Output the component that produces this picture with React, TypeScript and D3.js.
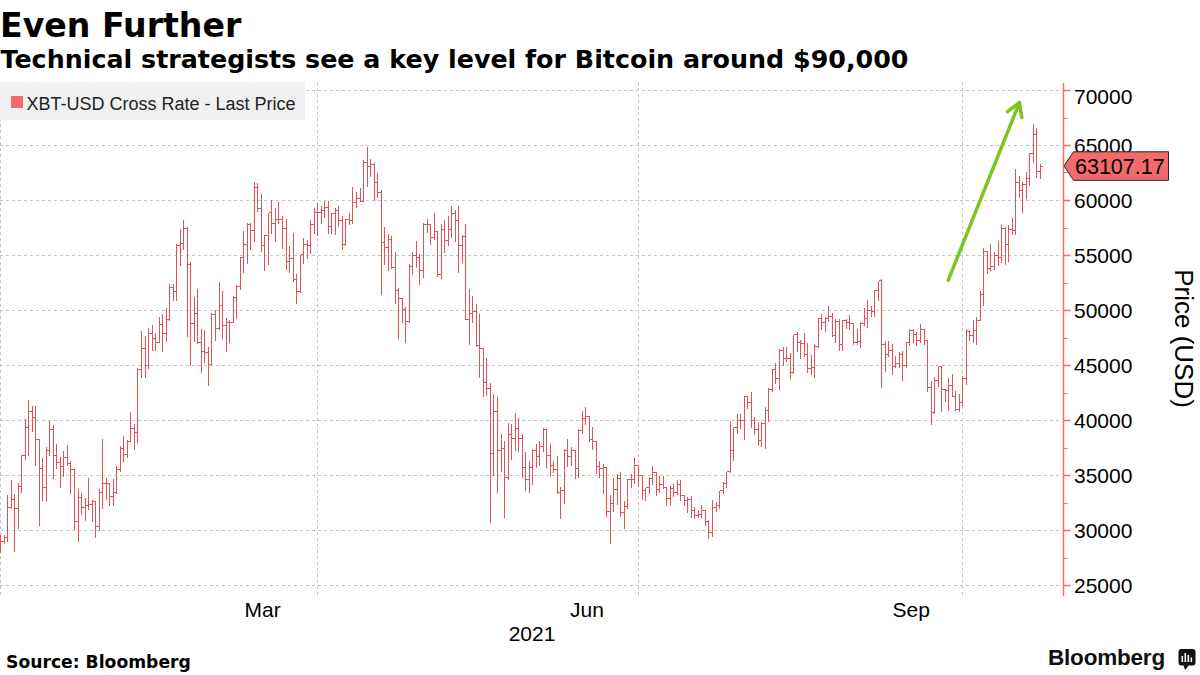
import React, { useEffect } from "react";
import * as d3 from "d3";

type OHLC = [number, number, number, number]; // open, high, low, close (USD)

const TITLE = "Even Further";
const SUBTITLE = "Technical strategists see a key level for Bitcoin around $90,000";
const LEGEND_LABEL = "XBT-USD Cross Rate - Last Price";
const SOURCE = "Source: Bloomberg";
const AXIS_TITLE = "Price (USD)";
const BRAND = "Bloomberg";
const LAST_PRICE = 63107.17;
const LAST_PRICE_LABEL = "63107.17";

const yTicks = [25000, 30000, 35000, 40000, 45000, 50000, 55000, 60000, 65000, 70000];
const yMinorTicks = [27500, 32500, 37500, 42500, 47500, 52500, 57500, 62500, 67500];
const monthLabels = ["Mar", "Jun", "Sep"];
const monthLabelMonths = [2, 5, 8];
const yearLabel = "2021";

// arrow annotation (date, price)
const arrowFrom = { date: "2021-09-27T00:00:00", price: 52700 };
const arrowTo = { date: "2021-10-17T05:00:00", price: 68850 };

const dec2020: OHLC[] = [[28900, 29600, 28000, 29000]];
const jan2021: OHLC[] = [
  [29000, 29600, 28800, 29400], [29400, 33300, 29000, 32100], [32100, 34600, 32000, 32800],
  [32800, 33400, 28100, 32000], [32000, 34400, 30200, 34000], [34000, 36900, 33500, 36800],
  [36800, 40200, 36500, 39400], [39400, 41900, 36800, 40800], [40800, 41400, 39000, 40300],
  [40300, 41400, 35900, 38300], [38300, 38400, 30500, 35600], [35600, 36600, 32700, 33900],
  [33900, 37600, 32600, 37300], [37300, 40000, 36800, 39200], [39200, 39600, 34700, 36800],
  [36800, 37900, 35600, 36200], [36200, 36700, 33900, 35800], [35800, 37300, 34900, 36600],
  [36600, 37800, 35900, 36100], [36100, 36400, 33400, 35500], [35500, 35600, 30100, 30800],
  [30800, 33800, 29000, 33000], [33000, 33500, 31500, 32100], [32100, 33000, 30900, 32300],
  [32300, 34800, 31900, 32400], [32400, 32800, 30800, 32600], [32600, 32600, 29400, 30400],
  [30400, 33800, 30000, 33500], [33500, 38400, 32000, 34300], [34300, 34800, 32800, 34300],
  [34300, 34300, 32300, 33100],
];
const feb2021: OHLC[] = [
  [33100, 34700, 32300, 33500], [33500, 35900, 33400, 35500], [35500, 37700, 35400, 37500],
  [37500, 38600, 36300, 36900], [36900, 38300, 36600, 38100], [38100, 40800, 38100, 39300],
  [39300, 39700, 37400, 38900], [38900, 44800, 38000, 44600], [44600, 48200, 43900, 46500],
  [46500, 47700, 43900, 45000], [45000, 48500, 44700, 47900], [47900, 48700, 46400, 47500],
  [47500, 48000, 46400, 47100], [47100, 49500, 47100, 48700], [48700, 49700, 46300, 47900],
  [47900, 50300, 47200, 49200], [49200, 52500, 49100, 52100], [52100, 52500, 50900, 51700],
  [51700, 56100, 50900, 55900], [55900, 57500, 54100, 56100], [56100, 58300, 55500, 57500],
  [57500, 57600, 47600, 54200], [54200, 54500, 45000, 48800], [48800, 51300, 47200, 49700],
  [49700, 52000, 47000, 47100], [47100, 48400, 44400, 46300], [46300, 48300, 45300, 46200],
  [46200, 46700, 43200, 45100],
];
const mar2021: OHLC[] = [
  [45100, 49800, 45100, 49600], [49600, 50100, 47300, 48400], [48400, 52600, 48300, 50500],
  [50500, 51800, 47500, 48600], [48600, 49400, 46300, 48900], [48900, 49200, 47100, 48900],
  [48900, 51400, 48900, 51200], [51200, 52400, 49300, 52200], [52200, 54900, 51900, 54800],
  [54800, 57300, 53500, 56000], [56000, 58000, 54300, 57800], [57800, 58000, 55500, 57300],
  [57300, 61700, 56300, 61200], [61200, 61600, 59000, 59300], [59300, 60600, 55400, 55900],
  [55900, 56900, 53600, 56800], [56800, 58900, 54200, 58900], [58900, 60100, 57000, 57900],
  [57900, 59400, 56300, 58300], [58300, 59900, 57900, 58300], [58300, 58600, 55600, 57500],
  [57500, 58400, 53700, 54500], [54500, 55900, 53500, 54700], [54700, 57100, 52600, 52800],
  [52800, 53400, 50600, 51700], [51700, 55100, 51600, 55100], [55100, 56600, 54300, 56000],
  [56000, 56500, 54700, 55900], [55900, 58300, 55200, 57800], [57800, 59400, 57000, 58900],
  [58900, 59800, 56800, 58900],
];
const apr2021: OHLC[] = [
  [58900, 59500, 57900, 59100], [59100, 60000, 58500, 59400], [59400, 60000, 57000, 57600],
  [57600, 58900, 57000, 58800], [58800, 59400, 56900, 59100], [59100, 59500, 57600, 58200],
  [58200, 58600, 55500, 56000], [56000, 58400, 55900, 58300], [58300, 58900, 57800, 58200],
  [58200, 61300, 57900, 59800], [59800, 60800, 59400, 60200], [60200, 61200, 59900, 59900],
  [59900, 63700, 59900, 63500], [63500, 64900, 61300, 63100], [63100, 63800, 62200, 63300],
  [63300, 63500, 60000, 61600], [61600, 62500, 60300, 60700], [60700, 61000, 51500, 56200],
  [56200, 57600, 54200, 55700], [55700, 57000, 53600, 56500], [56500, 56800, 53800, 53900],
  [53900, 55400, 50600, 51800], [51800, 52100, 47500, 51100], [51100, 51200, 48900, 50100],
  [50100, 50400, 47100, 49000], [49000, 54300, 48900, 54000], [54000, 55400, 53300, 55000],
  [55000, 56400, 53900, 54800], [54800, 55200, 52400, 53600], [53600, 58000, 53000, 57800],
];
const may2021: OHLC[] = [
  [57800, 58400, 57100, 57800], [57800, 57900, 56000, 56600], [56600, 58900, 56500, 57200],
  [57200, 57200, 53100, 53300], [53300, 57900, 52900, 57400], [57400, 58300, 55300, 56400],
  [56400, 58600, 55900, 57400], [57400, 59500, 56600, 58800], [58800, 59200, 56300, 58200],
  [58200, 59500, 53500, 55900], [55900, 56900, 54400, 56700], [56700, 57900, 49200, 49200],
  [49200, 52000, 46900, 49700], [49700, 51400, 48900, 49900], [49900, 50600, 46700, 46800],
  [46800, 49700, 43900, 46500], [46500, 46500, 42200, 43500], [43500, 45700, 42300, 42900],
  [42900, 43500, 30700, 37000], [37000, 42500, 35000, 40800], [40800, 42200, 33500, 37300],
  [37300, 38800, 35400, 37500], [37500, 38200, 31200, 34800], [34800, 39800, 34600, 38700],
  [38700, 39700, 36500, 38400], [38400, 40700, 37300, 39300], [39300, 40300, 37200, 38400],
  [38400, 38800, 34800, 35700], [35700, 37200, 33600, 34600], [34600, 36400, 33500, 35700],
  [35700, 37500, 34200, 37300],
];
const jun2021: OHLC[] = [
  [37300, 37900, 35700, 36700], [36700, 38200, 35900, 37600], [37600, 39400, 37200, 39200],
  [39200, 39200, 35700, 36800], [36800, 37900, 34900, 35900], [35900, 36400, 35300, 35500],
  [35500, 36800, 33400, 33500], [33500, 34000, 31100, 33600], [33600, 37500, 32500, 37300],
  [37300, 38400, 35800, 36700], [36700, 37600, 35900, 37300], [37300, 37400, 34700, 35600],
  [35600, 39300, 34800, 39100], [39100, 40900, 38800, 40200], [40200, 41300, 39600, 40400],
  [40400, 40500, 38100, 38300], [38300, 39500, 37400, 38100], [38100, 38200, 35200, 35800],
  [35800, 36400, 34800, 35600], [35600, 36100, 33400, 35700], [35700, 35700, 31300, 31700],
  [31700, 33300, 28800, 32500], [32500, 34800, 31700, 33700], [33700, 35200, 32400, 34700],
  [34700, 35400, 31300, 31600], [31600, 32700, 30200, 32200], [32200, 34700, 32000, 34600],
  [34600, 35200, 33900, 34600], [34600, 36600, 34300, 35900], [35900, 36000, 34000, 35000],
];
const jul2021: OHLC[] = [
  [35000, 35000, 32800, 33600], [33600, 33900, 32700, 33900], [33900, 34900, 33400, 34700],
  [34700, 35900, 34200, 35300], [35300, 35300, 33200, 33700], [33700, 35000, 33500, 34200],
  [34200, 35000, 33800, 33900], [33900, 33900, 32300, 32900], [32900, 34100, 32400, 33800],
  [33800, 34300, 33100, 33500], [33500, 34600, 33300, 34200], [34200, 34600, 32700, 33200],
  [33200, 33300, 32300, 32700], [32700, 33100, 31600, 32800], [32800, 33200, 31200, 31800],
  [31800, 32200, 31100, 31400], [31400, 31900, 31200, 31500], [31500, 32400, 31200, 31800],
  [31800, 31900, 30500, 30800], [30800, 31000, 29300, 29800], [29800, 32800, 29500, 32100],
  [32100, 32600, 31700, 32300], [32300, 33600, 32000, 33600], [33600, 34500, 33400, 34300],
  [34300, 35400, 33900, 35400], [35400, 40000, 35300, 37300], [37300, 39500, 36400, 39400],
  [39400, 40600, 38800, 40000], [40000, 40600, 39300, 40000], [40000, 42300, 38300, 42200],
  [42200, 42300, 41100, 41600],
];
const aug2021: OHLC[] = [
  [41600, 42600, 39400, 40000], [40000, 40400, 38700, 39200], [39200, 39800, 37700, 38200],
  [38200, 39900, 37600, 39700], [39700, 41300, 37500, 40900], [40900, 43000, 39900, 42800],
  [42800, 44700, 42600, 44600], [44600, 45300, 43400, 43800], [43800, 46500, 42800, 46400],
  [46400, 46700, 45000, 45600], [45600, 46700, 45400, 45600], [45600, 46200, 43800, 44400],
  [44400, 47800, 44300, 47800], [47800, 48100, 46300, 47100], [47100, 47400, 45600, 47000],
  [47000, 48000, 45800, 46000], [46000, 47100, 44400, 44700], [44700, 46000, 44200, 44800],
  [44800, 47000, 43900, 46700], [46700, 49400, 46600, 49300], [49300, 49700, 48300, 48900],
  [48900, 49500, 48100, 49300], [49300, 50500, 49000, 49500], [49500, 49800, 47600, 47700],
  [47700, 49300, 47100, 49000], [49000, 49300, 46400, 46900], [46900, 49200, 46400, 49100],
  [49100, 49300, 48400, 48900], [48900, 49600, 48300, 48800], [48800, 48900, 46900, 47100],
  [47100, 48400, 46900, 47200],
];
const sep2021: OHLC[] = [
  [47200, 49000, 46600, 48800], [48800, 50300, 48600, 49300], [49300, 51000, 48500, 50000],
  [50000, 50500, 49500, 49900], [49900, 51900, 49500, 51800], [51800, 52700, 50900, 52700],
  [52700, 52900, 43000, 46900], [46900, 47300, 44500, 46000], [46000, 47300, 45800, 46400],
  [46400, 47000, 44200, 44900], [44900, 45900, 44800, 45200], [45200, 46300, 44800, 46000],
  [46000, 46400, 43600, 45000], [45000, 47200, 44800, 47100], [47100, 48400, 46800, 48200],
  [48200, 48400, 47100, 47800], [47800, 48100, 46800, 47300], [47300, 48800, 47100, 48300],
  [48300, 48300, 46900, 47300], [47300, 47300, 42600, 43000], [43000, 43600, 39600, 40700],
  [40700, 44000, 40600, 43600], [43600, 44900, 43100, 44900], [44900, 45000, 40800, 42800],
  [42800, 42900, 41700, 42700], [42700, 43900, 40900, 43200], [43200, 44300, 42200, 42200],
  [42200, 42700, 40900, 41000], [41000, 42500, 40800, 41600], [41600, 44100, 41400, 43800],
];
const oct2021: OHLC[] = [
  [43800, 48400, 43300, 48100], [48100, 48300, 47300, 47700], [47700, 49200, 47100, 48200],
  [48200, 49500, 46900, 49100], [49100, 51800, 49100, 51500], [51500, 55700, 50500, 55400],
  [55400, 55400, 53400, 53800], [53800, 56100, 53600, 54000], [54000, 55400, 53700, 55000],
  [55000, 56400, 54100, 54800], [54800, 57800, 54400, 57500], [57500, 57600, 54200, 56000],
  [56000, 57800, 54500, 57400], [57400, 58500, 56900, 57300], [57300, 62900, 56900, 61600],
  [61600, 62300, 60300, 60900], [60900, 61700, 58900, 61500], [61500, 62600, 60200, 62000],
  [62000, 64400, 61400, 64300], [64300, 67000, 63500, 66000], [66000, 66600, 62100, 62600],
  [62600, 63400, 62000, 63107],
];

const monthSeries = [
  { year: 2020, month: 11, firstDay: 31, bars: dec2020 },
  { year: 2021, month: 0, firstDay: 1, bars: jan2021 },
  { year: 2021, month: 1, firstDay: 1, bars: feb2021 },
  { year: 2021, month: 2, firstDay: 1, bars: mar2021 },
  { year: 2021, month: 3, firstDay: 1, bars: apr2021 },
  { year: 2021, month: 4, firstDay: 1, bars: may2021 },
  { year: 2021, month: 5, firstDay: 1, bars: jun2021 },
  { year: 2021, month: 6, firstDay: 1, bars: jul2021 },
  { year: 2021, month: 7, firstDay: 1, bars: aug2021 },
  { year: 2021, month: 8, firstDay: 1, bars: sep2021 },
  { year: 2021, month: 9, firstDay: 1, bars: oct2021 },
];

const COLORS = {
  bar: "#df5258",
  accent: "#f26b6b",
  grid: "#c4c4c4",
  legendBg: "#f0f0f0",
  arrow: "#7cc41e",
  text: "#000000",
};

const SANS = "'Liberation Sans', Arial, sans-serif";
const BOLD = "'DejaVu Sans', Verdana, sans-serif";

export default function App() {
  useEffect(() => {
    document.body.style.margin = "0";
  }, []);

  const W = 1200;
  const H = 675;
  const plotLeft = 0;
  const plotRight = 1062;
  const plotTop = 82;
  const plotBottom = 596;

  const x = d3
    .scaleTime()
    .domain([new Date(2021, 0, 1), new Date(2021, 9, 29, 7)])
    .range([plotLeft, plotRight]);
  const y = d3.scaleLinear().domain([25000, 70000]).range([585, 90]);

  const bars = monthSeries.flatMap((m) =>
    m.bars.map((b, i) => ({
      date: new Date(m.year, m.month, m.firstDay + i),
      open: b[0],
      high: b[1],
      low: b[2],
      close: b[3],
    }))
  );

  // bars are stamped at the session close (end of the day)
  const barX = (d: Date) => Math.round(x(d3.timeDay.offset(d, 1))) + 0.5;
  const ry = (v: number) => Math.round(y(v)) + 0.5;
  const tick = 2.5;
  const barPath = bars
    .map((b) => {
      const bx = barX(b.date);
      return `M${bx},${ry(b.high)}V${ry(b.low)}M${bx - tick},${ry(b.open)}H${bx}M${bx},${ry(b.close)}H${bx + tick}`;
    })
    .join("");

  const quarterGrid = x.ticks(d3.timeMonth.every(3));

  // arrow
  const ax1 = x(new Date(arrowFrom.date));
  const ay1 = y(arrowFrom.price);
  const ax2 = x(new Date(arrowTo.date));
  const ay2 = y(arrowTo.price);
  const ang = Math.atan2(ay1 - ay2, ax1 - ax2);
  const headLen = 15;
  const spread = (31 * Math.PI) / 180;
  const h1 = [ax2 + headLen * Math.cos(ang + spread), ay2 + headLen * Math.sin(ang + spread)];
  const h2 = [ax2 + headLen * Math.cos(ang - spread), ay2 + headLen * Math.sin(ang - spread)];

  const axisX = plotRight + 1.5;
  const lastY = y(LAST_PRICE);

  return (
    <svg
      width={W}
      height={H}
      viewBox={`0 0 ${W} ${H}`}
      style={{ position: "absolute", left: 0, top: 0, display: "block", background: "#fff" }}
    >
      <rect x={0} y={0} width={W} height={H} fill="#fff" />
      {/* titles */}
      <text x={0} y={36.5} fontFamily={BOLD} fontWeight="bold" fontSize={33.2} fill={COLORS.text}>
        {TITLE}
      </text>
      <text x={0.5} y={68} fontFamily={BOLD} fontWeight="bold" fontSize={25.35} fill={COLORS.text}>
        {SUBTITLE}
      </text>

      {/* grid */}
      <g stroke={COLORS.grid} strokeWidth={1} strokeDasharray="3,3" fill="none">
        {yTicks.map((t) => (
          <line key={`hg${t}`} x1={plotLeft} x2={plotRight} y1={ry(t)} y2={ry(t)} />
        ))}
        {quarterGrid.map((d) => (
          <line
            key={`vg${d.getTime()}`}
            x1={Math.round(x(d)) + 0.5}
            x2={Math.round(x(d)) + 0.5}
            y1={plotTop}
            y2={plotBottom + 1}
          />
        ))}
      </g>

      {/* legend */}
      <rect x={0} y={82} width={305} height={38} fill={COLORS.legendBg} />
      <rect x={11} y={96} width={12} height={12} fill={COLORS.accent} />
      <text x={26.5} y={109.5} fontFamily={SANS} fontSize={18} fill="#222">
        {LEGEND_LABEL}
      </text>

      {/* OHLC bars */}
      <path d={barPath} stroke={COLORS.bar} strokeWidth={1} fill="none" shapeRendering="crispEdges" />

      {/* arrow annotation */}
      <g stroke={COLORS.arrow} strokeWidth={3.5} strokeLinecap="round" fill="none">
        <line x1={ax1} y1={ay1} x2={ax2} y2={ay2} />
        <polyline points={`${h1[0]},${h1[1]} ${ax2},${ay2} ${h2[0]},${h2[1]}`} strokeLinejoin="round" />
      </g>

      {/* right axis */}
      <line x1={axisX} x2={axisX} y1={83} y2={plotBottom} stroke={COLORS.accent} strokeWidth={1.5} />
      {yTicks.map((t) => (
        <line key={`mt${t}`} x1={axisX} x2={axisX + 7} y1={ry(t)} y2={ry(t)} stroke={COLORS.accent} strokeWidth={1.5} />
      ))}
      {yMinorTicks.map((t) => (
        <line key={`nt${t}`} x1={axisX} x2={axisX + 4} y1={ry(t)} y2={ry(t)} stroke={COLORS.accent} strokeWidth={1} />
      ))}
      {yTicks.map((t, i) => (
        <text
          key={`yl${t}`}
          x={1074}
          y={y(t) + (i === yTicks.length - 1 ? 6 : 0) + 7.5}
          fontFamily={SANS}
          fontSize={21}
          fill={COLORS.text}
        >
          {String(t)}
        </text>
      ))}
      <text
        transform={`translate(1175,${(y(70000) + y(25000)) / 2 + 1}) rotate(90)`}
        textAnchor="middle"
        fontFamily={SANS}
        fontSize={26}
        fill={COLORS.text}
      >
        {AXIS_TITLE}
      </text>

      {/* last price marker */}
      <path
        d={`M${axisX + 0.5},${lastY} L${1073.5},${lastY - 14} H1168.5 V${lastY + 14.5} H1073.5 Z`}
        fill={COLORS.accent}
        stroke="#3a2020"
        strokeWidth={1}
      />
      <text x={1075} y={lastY + 8} fontFamily={SANS} fontSize={21.5} fill={COLORS.text}>
        {LAST_PRICE_LABEL}
      </text>

      {/* x axis labels */}
      {monthLabels.map((lab, i) => (
        <text
          key={lab}
          x={x(new Date(2021, monthLabelMonths[i], 16, 12))}
          y={617}
          textAnchor="middle"
          fontFamily={SANS}
          fontSize={21}
          fill={COLORS.text}
        >
          {lab}
        </text>
      ))}
      <text x={(plotLeft + plotRight) / 2 + 1} y={641} textAnchor="middle" fontFamily={SANS} fontSize={21} fill={COLORS.text}>
        {yearLabel}
      </text>

      {/* footer */}
      <text x={6} y={668} fontFamily={BOLD} fontWeight="bold" fontSize={17.2} fill={COLORS.text}>
        {SOURCE}
      </text>
      <text x={1048} y={665} fontFamily={SANS} fontWeight="bold" fontSize={22.5} fill="#111" letterSpacing={-0.2}>
        {BRAND}
      </text>
      <g>
        <rect x={1178.5} y={649} width={17} height={16.5} rx={3} fill="#111" />
        <path d="M1183.5,665 L1189,665 L1185,670 Z" fill="#111" />
        <rect x={1181.5} y={656} width={1.6} height={6} fill="#fff" />
        <rect x={1184.5} y={653} width={1.6} height={9} fill="#fff" />
        <rect x={1187.5} y={655} width={1.6} height={7} fill="#fff" />
        <rect x={1190.5} y={657.5} width={1.6} height={4.5} fill="#fff" />
      </g>
    </svg>
  );
}
